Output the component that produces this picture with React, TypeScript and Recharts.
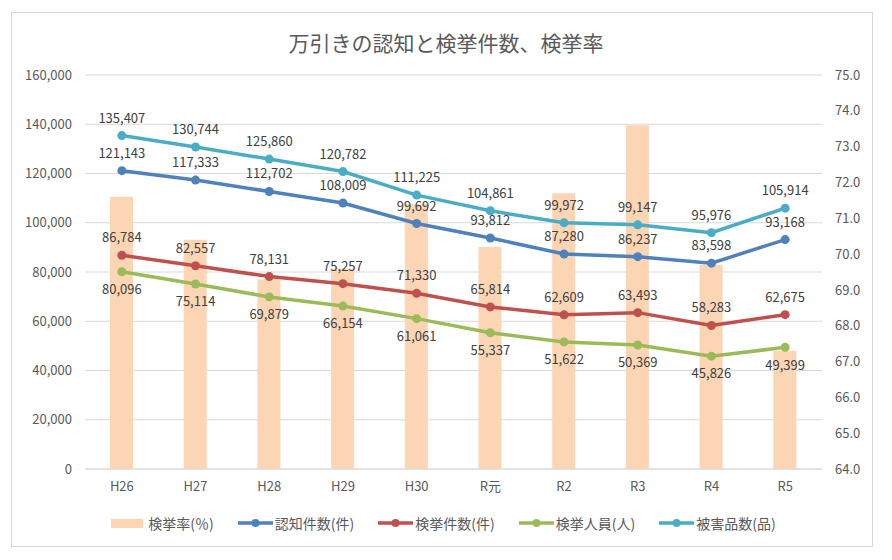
import {
  ComposedChart,
  Bar,
  Line,
  XAxis,
  YAxis,
  CartesianGrid,
  Legend,
  LabelList,
} from 'recharts'

const categories = ['H26', 'H27', 'H28', 'H29', 'H30', 'R元', 'R2', 'R3', 'R4', 'R5']
const arrestRate = [71.6, 70.4, 69.3, 69.6, 71.4, 70.2, 71.7, 73.6, 69.7, 67.3]
const recognized = [121143, 117333, 112702, 108009, 99692, 93812, 87280, 86237, 83598, 93168]
const cleared = [86784, 82557, 78131, 75257, 71330, 65814, 62609, 63493, 58283, 62675]
const arrested = [80096, 75114, 69879, 66154, 61061, 55337, 51622, 50369, 45826, 49399]
const stolenItems = [135407, 130744, 125860, 120782, 111225, 104861, 99972, 99147, 95976, 105914]

const leftTicks = [0, 20000, 40000, 60000, 80000, 100000, 120000, 140000, 160000]
const rightTicks = [64, 65, 66, 67, 68, 69, 70, 71, 72, 73, 74, 75]

const FONT = '"Noto Sans CJK JP", "Noto Sans", sans-serif'
const AXIS_TEXT = '#595959'
const LABEL_TEXT = '#404040'

const data = categories.map((c, i) => ({
  name: c,
  rate: arrestRate[i],
  recognized: recognized[i],
  cleared: cleared[i],
  arrested: arrested[i],
  stolen: stolenItems[i],
}))

const fmt = (v: number) => v.toLocaleString('en-US')

const lines = [
  { key: 'recognized', name: '認知件数(件)', color: '#4F81BD', pos: 'top' },
  { key: 'cleared', name: '検挙件数(件)', color: '#C0504D', pos: 'top' },
  { key: 'arrested', name: '検挙人員(人)', color: '#9BBB59', pos: 'bottom' },
  { key: 'stolen', name: '被害品数(品)', color: '#4BACC6', pos: 'top' },
] as const

const legendOrder = ['検挙率(％)', ...lines.map((l) => l.name)]

function LegendContent({ payload }: any) {
  const items = [...(payload || [])].sort(
    (a: any, b: any) => legendOrder.indexOf(a.value) - legendOrder.indexOf(b.value)
  )
  return (
    <div
      style={{
        height: 40,
        display: 'flex',
        justifyContent: 'center',
        alignItems: 'center',
        paddingBottom: 10,
        boxSizing: 'border-box',
        fontFamily: FONT,
        fontSize: 14,
        color: AXIS_TEXT,
      }}
    >
      {items.map((p: any) => (
        <div key={p.value} style={{ display: 'flex', alignItems: 'center', margin: '0 12px' }}>
          {p.type === 'rect' ? (
            <span style={{ width: 32, height: 9, background: p.color, marginRight: 5 }} />
          ) : (
            <svg width={35} height={10} style={{ marginRight: 2 }}>
              <line x1={0} y1={5} x2={35} y2={5} stroke={p.color} strokeWidth={3.5} />
              <circle cx={17.5} cy={5} r={4} fill={p.color} />
            </svg>
          )}
          <span>{p.value}</span>
        </div>
      ))}
    </div>
  )
}

export default function App() {
  return (
    <div style={{ position: 'relative', width: 892, height: 560, background: '#fff' }}>
      <style>{'body{margin:0}'}</style>
      <div
        style={{
          position: 'absolute',
          left: 11,
          top: 12,
          width: 862,
          height: 535,
          border: '1px solid #D9D9D9',
          boxSizing: 'border-box',
        }}
      />
      <div
        style={{
          position: 'absolute',
          top: 27,
          left: 0,
          width: 892,
          textAlign: 'center',
          fontFamily: FONT,
          fontSize: 21,
          color: AXIS_TEXT,
          lineHeight: '30px',
          zIndex: 1,
        }}
      >
        万引きの認知と検挙件数、検挙率
      </div>
      <ComposedChart
        width={892}
        height={560}
        data={data}
        margin={{ top: 75, right: 20, bottom: 12, left: 15 }}
        style={{ fontFamily: FONT }}
      >
        <CartesianGrid vertical={false} stroke="#D9D9D9" yAxisId="left" />
        <XAxis
          dataKey="name"
          tickLine={false}
          axisLine={{ stroke: '#D9D9D9' }}
          tick={{ fill: AXIS_TEXT, fontSize: 13 }}
          tickMargin={7}
          height={39}
        />
        <YAxis
          yAxisId="left"
          width={70}
          domain={[0, 160000]}
          ticks={leftTicks}
          tickFormatter={fmt}
          tickLine={false}
          axisLine={false}
          tickMargin={7}
          tick={{ fill: AXIS_TEXT, fontSize: 13 }}
        />
        <YAxis
          yAxisId="right"
          orientation="right"
          width={50}
          domain={[64, 75]}
          ticks={rightTicks}
          tickFormatter={(v: number) => v.toFixed(1)}
          tickLine={false}
          axisLine={false}
          tickMargin={7}
          tick={{ fill: AXIS_TEXT, fontSize: 13 }}
        />
        <Bar
          yAxisId="right"
          dataKey="rate"
          name="検挙率(％)"
          fill="#FCD5B5"
          barSize={23}
          isAnimationActive={false}
          legendType="rect"
        />
        {lines.map((l) => (
          <Line
            key={l.key}
            yAxisId="left"
            dataKey={l.key}
            name={l.name}
            stroke={l.color}
            strokeWidth={3.5}
            dot={{ r: 4.5, fill: l.color, stroke: l.color, strokeWidth: 0 }}
            activeDot={false}
            isAnimationActive={false}
            type="linear"
          >
            <LabelList
              dataKey={l.key}
              position={l.pos}
              offset={13}
              formatter={(v: any) => fmt(Number(v))}
              style={{ fill: LABEL_TEXT, fontSize: 13 }}
            />
          </Line>
        ))}
        <Legend verticalAlign="bottom" content={<LegendContent />} />
      </ComposedChart>
    </div>
  )
}
